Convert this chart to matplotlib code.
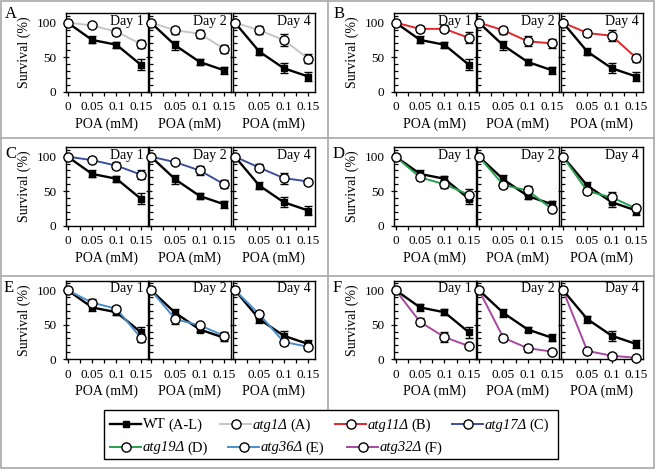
import matplotlib
matplotlib.use('Agg')
import matplotlib.pyplot as plt
from matplotlib.ticker import MultipleLocator, FixedLocator
from matplotlib.lines import Line2D
from matplotlib.patches import Rectangle

plt.rcParams['font.family'] = ['Liberation Serif', 'DejaVu Serif']

# ---------------- data ----------------
doses = [0, 0.05, 0.1, 0.15]
dose_labels = ['0', '0.05', '0.1', '0.15']
days = ['Day 1', 'Day 2', 'Day 4']

wt_means = [[100, 75, 68, 39], [100, 67, 43, 31], [100, 58, 34, 22]]
wt_errs = [[0, 5, 4, 8], [0, 6, 4, 5], [0, 5, 7, 6]]

atg1_means = [[100, 96, 87, 69], [100, 89, 84, 62], [100, 89, 75, 48]]
atg1_errs = [[0, 2, 5, 6], [0, 5, 6, 6], [0, 6, 9, 7]]

atg11_means = [[100, 91, 91, 78], [100, 89, 73, 70], [100, 85, 81, 49]]
atg11_errs = [[0, 4, 5, 8], [0, 5, 7, 7], [0, 4, 8, 6]]

atg17_means = [[100, 95, 87, 74], [100, 92, 80, 60], [100, 84, 69, 64]]
atg17_errs = [[0, 2, 5, 6], [0, 3, 6, 6], [0, 5, 8, 3]]

atg19_means = [[100, 70, 60, 45], [100, 59, 51, 24], [100, 50, 41, 25]]
atg19_errs = [[0, 4, 6, 8], [0, 5, 6, 4], [0, 4, 8, 4]]

atg36_means = [[100, 82, 73, 31], [100, 58, 49, 34], [100, 65, 25, 18]]
atg36_errs = [[0, 5, 4, 6], [0, 7, 4, 5], [0, 5, 4, 4]]

atg32_means = [[100, 54, 32, 19], [100, 31, 16, 11], [100, 12, 5, 2]]
atg32_errs = [[0, 5, 7, 3], [0, 4, 5, 3], [0, 2, 2, 1]]

panel_letters = ['A', 'B', 'C', 'D', 'E', 'F']
mutant_names = ['atg1Δ', 'atg11Δ', 'atg17Δ', 'atg19Δ', 'atg36Δ', 'atg32Δ']
mutant_colors = ['#c6c6c6', '#e3262b', '#3c4f9b', '#27a04f', '#4a8fcc', '#a64aa0']
mutant_means = [atg1_means, atg11_means, atg17_means, atg19_means, atg36_means, atg32_means]
mutant_errs = [atg1_errs, atg11_errs, atg17_errs, atg19_errs, atg36_errs, atg32_errs]

# ---------------- layout ----------------
W, H = 657, 470
fig = plt.figure(figsize=(W / 100, H / 100), dpi=100)


def px_axes(left, top, width, height, **kw):
    return fig.add_axes([left / W, 1 - (top + height) / H, width / W, height / H], **kw)


# background overlay for borders / dividers
ov = px_axes(0, 0, W, H, zorder=-5)
ov.set_xlim(0, W)
ov.set_ylim(H, 0)
ov.axis('off')
gray = '#a8a8a8'
ov.add_patch(Rectangle((1, 1), 653, 467, fill=False, ec=gray, lw=1.2))
ov.plot([1, 654], [137.5, 137.5], color=gray, lw=1.2)
ov.plot([1, 654], [275.5, 275.5], color=gray, lw=1.2)
ov.plot([327.5, 327.5], [1, 410], color=gray, lw=1.2)

row_tops = [13, 147, 280.5]
row_h = 78.7
col_offsets = [0, 328]
sub_lefts = [65.7, 149, 233]
sub_w = 82
letter_pos = [(11, 14), (339, 14), (11, 154), (339, 154), (9, 288), (337, 288)]

fs = 9.5
for p in range(6):
    r, c = divmod(p, 2)
    top = row_tops[r]
    for d in range(3):
        ax = px_axes(col_offsets[c] + sub_lefts[d], top, sub_w, row_h)
        ax.patch.set_alpha(0)
        ax.errorbar(doses, wt_means[d], yerr=wt_errs[d], color='black', marker='s',
                    ms=4.6, lw=1.7, ecolor='black', elinewidth=1, capsize=2.6,
                    capthick=1, zorder=3, clip_on=False)
        ax.errorbar(doses, mutant_means[p][d], yerr=mutant_errs[p][d],
                    color=mutant_colors[p], marker='o', ms=6.6, mfc='white',
                    mec='black', mew=1.0, lw=1.4, ecolor='black', elinewidth=1,
                    capsize=2.6, capthick=1, zorder=4, clip_on=False)
        ax.set_xlim(-0.004, 0.164)
        ax.set_ylim(0, 114)
        ax.xaxis.set_major_locator(FixedLocator(doses))
        ax.xaxis.set_minor_locator(MultipleLocator(0.025))
        ax.set_xticklabels(dose_labels if d == 0 else [''] + dose_labels[1:])
        ax.yaxis.set_major_locator(FixedLocator([0, 50, 100]))
        ax.yaxis.set_minor_locator(MultipleLocator(10))
        ax.tick_params(axis='x', which='major', direction='out', length=3.2,
                       width=0.9, pad=3.5, labelsize=fs)
        ax.tick_params(axis='x', which='minor', direction='out', length=2.6, width=0.9)
        ax.tick_params(axis='y', which='major', direction='inout', length=4.5,
                       width=0.9, pad=4.5, labelsize=fs)
        ax.tick_params(axis='y', which='minor', direction='in', length=2.6, width=0.9)
        if d == 0:
            ax.set_ylabel('Survival (%)', fontsize=fs + 0.5, labelpad=4)
        else:
            ax.set_yticklabels([])
        ax.set_xlabel('POA (mM)', fontsize=fs + 0.5, labelpad=3)
        for sp in ax.spines.values():
            sp.set_linewidth(1.0)
        ax.text(1 - 4 / sub_w, 1 - 1.5 / row_h, days[d], transform=ax.transAxes,
                ha='right', va='top', fontsize=fs + 0.5, zorder=6)
    fig.text(letter_pos[p][0] / W, 1 - letter_pos[p][1] / H, panel_letters[p],
             ha='center', va='center', fontsize=12)

# ---------------- legend ----------------
lg = px_axes(0, 0, W, H, zorder=10)
lg.set_xlim(0, W)
lg.set_ylim(H, 0)
lg.axis('off')
lg.patch.set_alpha(0)
lg.add_patch(Rectangle((104, 410), 454, 49, fill=True, fc='white', ec='black', lw=1.0))

leg_names = ['WT'] + mutant_names
leg_tags = ['(A-L)'] + ['(%s)' % l for l in panel_letters]
leg_colors = ['black'] + mutant_colors
leg_x = [110, 220, 335, 452, 110, 228, 347]
leg_y = [423.5, 423.5, 423.5, 423.5, 446.5, 446.5, 446.5]
hl = 31
renderer = fig.canvas.get_renderer()
inv = lg.transData.inverted()
for i in range(len(leg_names)):
    x0, y0 = leg_x[i], leg_y[i]
    if i == 0:
        lg.add_line(Line2D([x0, x0 + hl], [y0, y0], color='black', lw=1.7))
        lg.add_line(Line2D([x0 + hl / 2], [y0], marker='s', ms=5, color='black', lw=0))
    else:
        lg.add_line(Line2D([x0, x0 + hl], [y0, y0], color=leg_colors[i], lw=1.4))
        lg.add_line(Line2D([x0 + hl / 2], [y0], marker='o', ms=6.6, mfc='white',
                           mec='black', mew=1.0, lw=0))
    t1 = lg.text(x0 + hl + 2, y0, leg_names[i], ha='left', va='center_baseline',
                 fontsize=10.5, style='normal' if i == 0 else 'italic')
    bb = t1.get_window_extent(renderer)
    x1 = inv.transform((bb.x1, bb.y0))[0]
    lg.text(x1 + 2.5, y0, leg_tags[i], ha='left', va='center_baseline', fontsize=10.5)

fig.savefig('out.png', dpi=100)
